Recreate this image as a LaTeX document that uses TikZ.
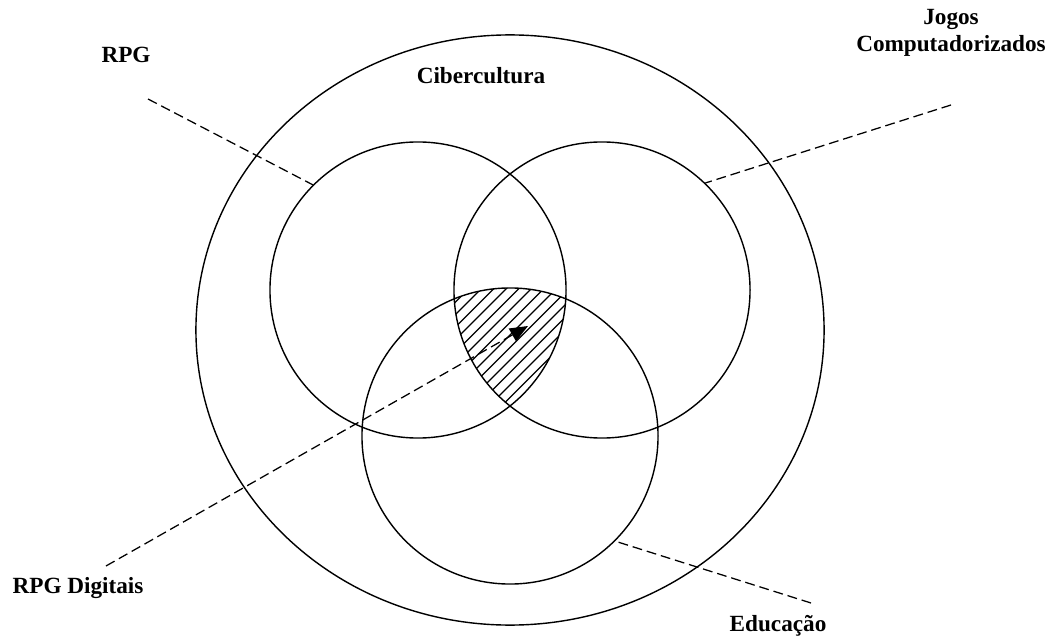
\documentclass[tikz,border=0pt]{standalone}
\usepackage{fontspec}
\setmainfont{Liberation Serif}
\usepackage{tikz}
\usetikzlibrary{arrows.meta,shapes.geometric}

\begin{document}
\begin{tikzpicture}[x=0.025cm, y=-0.025cm,
  lbl/.style={font=\bfseries\fontsize{16.5}{19.5}\selectfont, inner sep=0pt, align=center},
  ring/.style={draw, circle, line width=1pt, minimum size=7.4cm, inner sep=0pt},
  dline/.style={line width=0.9pt, dash pattern=on 7pt off 3.5pt},
  arrow/.style={dline, -{Triangle[length=0.45cm, width=0.36cm]}}]

  \useasboundingbox (0,0) rectangle (1056,636);

  % --- hatched core (all three sets) ---
  \begin{scope}
    \clip (418,290) circle[radius=3.7cm];
    \clip (602,290) circle[radius=3.7cm];
    \clip (510,436) circle[radius=3.7cm];
    \foreach \k in {300,312.5,...,600}
      \draw[line width=0.9pt] (\k,420) -- ++(160,-160);
  \end{scope}

  % --- outer set + the three sets ---
  \node[draw, ellipse, line width=1pt, minimum width=15.7cm, minimum height=14.75cm, inner sep=0pt] (ciber) at (510,330) {};
  \node[ring] (crpg)   at (418,290) {};
  \node[ring] (cjogos) at (602,290) {};
  \node[ring] (cedu)   at (510,436) {};

  % --- labels ---
  \node[lbl] (lrpg)   at (126,55)  {RPG};
  \node[lbl] (lciber) at (481,76)  {Cibercultura};
  \node[lbl] (ljogos) at (951,33)  {Jogos\\Computadorizados};
  \node[lbl] (ldig)   at (78,588)  {RPG Digitais};
  \node[lbl] (ledu)   at (778,626) {Educação};

  % --- pointers ---
  \coordinate (prpg)   at (148,99);
  \coordinate (pjogos) at (951,105);
  \coordinate (pedu)   at (811,603);
  \coordinate (pdig)   at (106,566);
  \coordinate (core)   at (528,326);

  \draw[dline] (prpg) -- (crpg.135);
  \draw[dline] (pjogos) -- (cjogos.46);
  \draw[dline] (pedu) -- (cedu.-45);
  \draw[arrow] (pdig) -- (core);
\end{tikzpicture}
\end{document}
